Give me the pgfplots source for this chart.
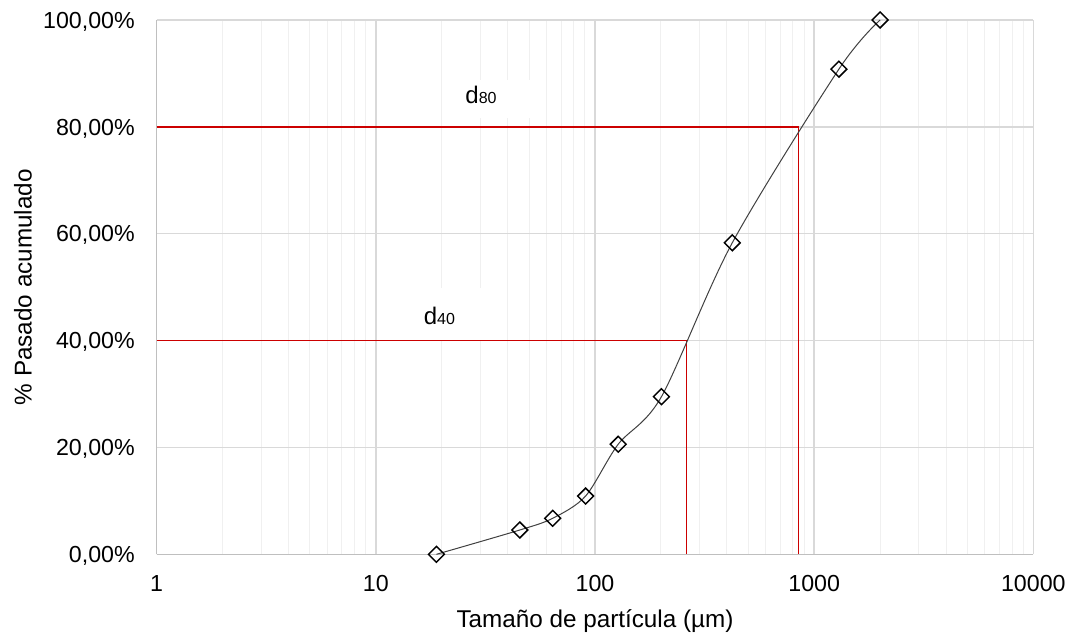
\documentclass[border=0pt]{standalone}
\usepackage{pgfplots}
\pgfplotsset{compat=1.18}
\usepackage{fontspec}
\setmainfont{Liberation Sans}
\definecolor{majgrid}{RGB}{217,217,217}
\definecolor{mingrid}{RGB}{240,240,240}
\definecolor{axgray}{RGB}{191,191,191}
\definecolor{dred}{RGB}{204,0,0}
\definecolor{curve}{RGB}{64,64,64}
\begin{document}
\begin{tikzpicture}
\useasboundingbox (-117.525pt,-60.525pt) rectangle (687.975pt,415.725pt);
\begin{axis}[
  at={(0pt,0pt)}, anchor=south west,
  scale only axis, width=657.45pt, height=400.725pt,
  xmode=log, xmin=1, xmax=10000, ymin=0, ymax=100,
  xtick={1,10,100,1000,10000},
  xticklabels={1,10,100,1000,10000},
  minor xtick={2,3,4,5,6,7,8,9,20,30,40,50,60,70,80,90,200,300,400,500,600,700,800,900,2000,3000,4000,5000,6000,7000,8000,9000},
  ytick={0,20,40,60,80,100},
  yticklabels={{0,00\%},{20,00\%},{40,00\%},{60,00\%},{80,00\%},{100,00\%}},
  grid=both,
  major grid style={draw=majgrid, line width=1pt},
  minor grid style={draw=mingrid, line width=0.75pt},
  axis x line*=bottom, axis y line*=left,
  axis line style={draw=axgray, line width=1pt, -},
  major tick length=0pt, minor tick length=0pt,
  tick label style={font=\fontsize{17.4}{20}\selectfont, inner sep=0pt},
  xticklabel style={anchor=north, yshift=-15.5pt},
  yticklabel style={anchor=base east, xshift=-16.3pt, yshift=-6.2pt},
  clip=false,
]
\addplot[dred, line width=1pt] coordinates {(1,40)(262,40)(262,0)};
\addplot[dred, line width=1pt] coordinates {(1,80)(851,80)(851,0)};
\addplot[smooth, tension=0.5, color=curve, line width=0.75pt,
  mark=square, mark size=4.2pt,
  mark options={rotate=45, solid, fill=white, draw=black, line width=1.1pt}]
  coordinates {(18.9,0)(45.4,4.55)(64.1,6.74)(90.6,10.9)(127.6,20.6)(201,29.5)(423,58.3)(1297,90.8)(2000,100)};
\node[fill=white, inner sep=0pt, minimum width=71pt, minimum height=28.5pt] at (axis cs:34.0,85.2) {};
\node[fill=white, inner sep=0pt, minimum width=75pt, minimum height=39pt] at (axis cs:19.6,45.0) {};
\node[anchor=base, inner sep=0pt, font=\fontsize{18}{20}\selectfont] at (axis cs:30.2,84.4) {d{\fontsize{12}{13}\selectfont 80}};
\node[anchor=base, inner sep=0pt, font=\fontsize{18}{20}\selectfont] at (axis cs:19.5,43.05) {d{\fontsize{12}{13}\selectfont 40}};
\node[anchor=base, inner sep=0pt, font=\fontsize{18.2}{21}\selectfont] at ([yshift=-55pt]axis description cs:0.5,0) {Tamaño de partícula (µm)};
\node[anchor=base, rotate=90, inner sep=0pt, font=\fontsize{18.2}{21}\selectfont] at ([xshift=-93.75pt]axis description cs:0,0.5) {\% Pasado acumulado};
\end{axis}
\end{tikzpicture}
\end{document}
